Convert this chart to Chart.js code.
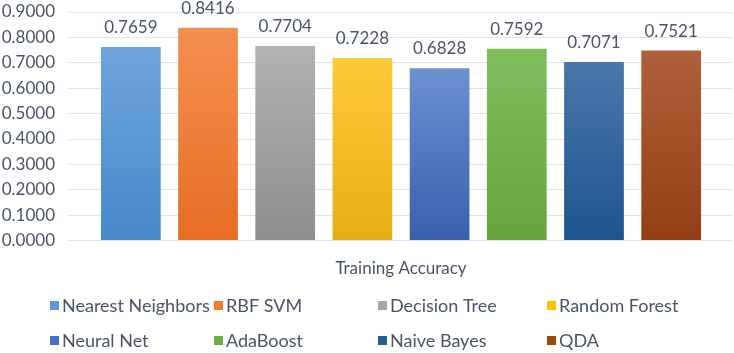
<!DOCTYPE html>
<html>
<head>
<meta charset="utf-8">
<script src="https://cdn.jsdelivr.net/npm/chart.js@4/dist/chart.umd.min.js"></script>
<style>
  html, body { margin: 0; padding: 0; background: #fff; }
  #wrap { width: 734px; height: 353px; position: relative; }
</style>
</head>
<body>
<div id="wrap"><canvas id="accChart"></canvas></div>
<script>
// Data
const categories = ["Training Accuracy"];
const models = ["Nearest Neighbors", "RBF SVM", "Decision Tree", "Random Forest",
                "Neural Net", "AdaBoost", "Naive Bayes", "QDA"];
const accuracy = [0.7659, 0.8416, 0.7704, 0.7228, 0.6828, 0.7592, 0.7071, 0.7521];
const yTicks = [0, 0.1, 0.2, 0.3, 0.4, 0.5, 0.6, 0.7, 0.8, 0.9];

// Excel-ish gradient colours, light top -> dark bottom
const topColors = ["#70a5dc", "#f3904f", "#b2b2b2", "#ffcb38", "#6d90d2", "#80bd5d", "#4b77aa", "#b0603a"];
const bottomColors = ["#4689c9", "#e76d24", "#8e8e8e", "#e5ae14", "#3860ae", "#67a43e", "#1d5590", "#953e15"];
const legendColors = ["#5b9bd5", "#ed7d31", "#a5a5a5", "#ffc000", "#4472c4", "#70ad47", "#255e91", "#9e480e"];

const textColor = "#4a5468";
const fontFamily = "Lato, 'Open Sans', sans-serif";

function barGradient(ctx, i) {
  const chart = ctx.chart;
  const area = chart.chartArea;
  if (!area) return legendColors[i];
  const y = chart.scales.y;
  const top = y.getPixelForValue(accuracy[i]);
  const bottom = y.getPixelForValue(0);
  const g = chart.ctx.createLinearGradient(0, top, 0, bottom);
  g.addColorStop(0, topColors[i]);
  g.addColorStop(1, bottomColors[i]);
  return g;
}

// value labels above bars
const valueLabels = {
  id: "valueLabels",
  afterDatasetsDraw(chart) {
    const c = chart.ctx;
    c.save();
    c.font = "17px " + fontFamily;
    c.fillStyle = textColor;
    c.textAlign = "center";
    c.textBaseline = "bottom";
    chart.data.datasets.forEach((ds, i) => {
      const bar = chart.getDatasetMeta(i).data[0];
      c.fillText(ds.data[0].toFixed(4), bar.x, bar.y - 10);
    });
    c.restore();
  }
};

// legend laid out in 4 fixed columns like Excel
const gridLegend = {
  id: "gridLegend",
  afterDraw(chart) {
    const c = chart.ctx;
    c.save();
    c.font = "18px " + fontFamily;
    c.textBaseline = "middle";
    const colX = [50, 214, 378, 547];
    const rowY = [306, 341];
    chart.data.datasets.forEach((ds, i) => {
      const x = colX[i % 4];
      const y = rowY[Math.floor(i / 4)];
      c.fillStyle = legendColors[i];
      c.fillRect(x, y - 5, 9, 9);
      c.fillStyle = textColor;
      c.fillText(ds.label, x + 12, y);
    });
    c.restore();
  }
};

const datasets = models.map((name, i) => ({
  label: name,
  data: [accuracy[i]],
  backgroundColor: ctx => barGradient(ctx, i),
  borderColor: "rgba(255,255,255,0.35)",
  borderWidth: 1,
  categoryPercentage: 0.93,
  barPercentage: 0.8
}));

new Chart(document.getElementById("accChart"), {
  type: "bar",
  data: { labels: categories, datasets },
  plugins: [valueLabels, gridLegend],
  options: {
    responsive: true,
    maintainAspectRatio: false,
    animation: false,
    layout: { padding: { top: 12, right: 1, bottom: 56, left: 0 } },
    plugins: {
      legend: { display: false },
      tooltip: { enabled: false }
    },
    scales: {
      x: {
        grid: { display: false, drawTicks: false },
        border: { display: false },
        ticks: { color: textColor, font: { family: fontFamily, size: 17 }, padding: 18 }
      },
      y: {
        min: 0,
        max: 0.9,
        afterBuildTicks: axis => { axis.ticks = yTicks.map(v => ({ value: v })); },
        afterFit: axis => {
          axis.width = 69;
          axis.paddingTop = 0;
          axis.paddingBottom = 0;
        },
        grid: { color: "#dfe3ea", lineWidth: 1, drawTicks: false },
        border: { display: false },
        ticks: {
          autoSkip: false,
          color: textColor,
          font: { family: fontFamily, size: 17 },
          padding: 14,
          callback: v => Number(v).toFixed(4)
        }
      }
    }
  }
});
</script>
</body>
</html>
